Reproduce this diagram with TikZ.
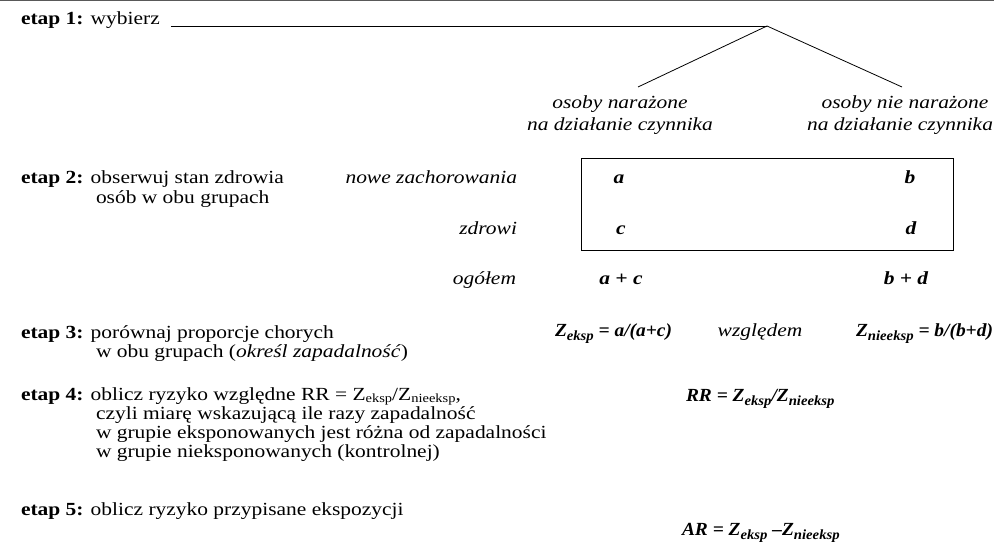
\documentclass[tikz,border=0pt]{standalone}
\usepackage{fontspec}
\setmainfont{Liberation Serif}[FakeStretch=1.16]
\newfontfamily\formulafont{Liberation Serif}[FakeStretch=1.05]
\usetikzlibrary{calc}

% body text size and lowered subscripts
\newcommand\bodyfs{\fontsize{18.5}{19}\selectfont}
\newcommand\lowsub[1]{\raisebox{-0.55ex}{\fontsize{14}{14}\selectfont #1}}
\newcommand\textsub[1]{\raisebox{-0.35ex}{\fontsize{12.5}{13}\selectfont #1}}

\tikzset{
  txt/.style={inner sep=0pt, outer sep=0pt, font=\bodyfs},
  lbl/.style={txt, font=\bodyfs\itshape},
  cell/.style={txt, font=\bodyfs\bfseries\itshape},
  formula/.style={txt, font=\formulafont\bodyfs\bfseries\itshape},
  rule/.style={line width=0.8pt, black},
  table/.style={draw, line width=0.8pt, minimum width=372pt, minimum height=92pt, inner sep=0pt}
}

\begin{document}
\begin{tikzpicture}[x=1pt, y=-1pt]
\useasboundingbox (0,0) rectangle (994,543);

% top rule of the page
\draw[line width=1.5pt, color=black!65] (0,0.75) -- (994,0.75);

% stage 1: choose the two groups
\node[txt, anchor=base west] (s1) at (21,25) {\textbf{etap 1:} wybierz};
\coordinate (apex) at (767,26);
\coordinate (expTop) at (638,87);
\coordinate (unexpTop) at (902,87);
\draw[rule] ($(s1.base east)+(11pt,-1pt)$) -- (apex);
\draw[rule] (apex) -- (expTop);
\draw[rule] (apex) -- (unexpTop);

\node[lbl, anchor=base] (exp1) at (620,108) {osoby narażone};
\node[lbl, anchor=base] (exp2) at (620,130) {na działanie czynnika};
\node[lbl, anchor=base] (unexp1) at (905,108) {osoby nie narażone};
\node[lbl, anchor=base east] (unexp2) at (993,130) {na działanie czynnika};

% stage 2: the 2x2 table
\node[txt, anchor=base west] (s2) at (21,183) {\textbf{etap 2:} obserwuj stan zdrowia};
\node[txt, anchor=base west] (s2b) at (96,203) {osób w obu grupach};

\node[table] (tab) at (767,204) {};

\node[lbl, anchor=base east] (sick) at (517,183) {nowe zachorowania};
\node[lbl, anchor=base east] (healthy) at (517,234) {zdrowi};
\node[lbl, anchor=base east] (total) at (516,284) {ogółem};
\draw[rule] ($(sick.base east)+(5pt,4.5pt)$) -- ($(sick.base east)+(5pt,4.5pt)$ -| tab.west);
\draw[rule] ($(healthy.base east)+(5pt,4.5pt)$) -- ($(healthy.base east)+(5pt,4.5pt)$ -| tab.west);

\node[cell, anchor=base] (a) at (619,183) {a};
\node[cell, anchor=base] (b) at (910,183) {b};
\node[cell, anchor=base] (c) at (621,234) {c};
\node[cell, anchor=base] (d) at (911,234) {d};
\node[cell, anchor=base] (ac) at (621,284) {a + c};
\node[cell, anchor=base] (bd) at (906,284) {b + d};

% stage 3: incidence in both groups
\node[txt, anchor=base west] (s3) at (21,338) {\textbf{etap 3:} porównaj proporcje chorych};
\node[txt, anchor=base west] (s3b) at (96,357) {w obu grupach (\textit{określ zapadalność})};
\node[formula, anchor=base west] (zexp) at (555,336) {Z\lowsub{eksp} = a/(a+c)};
\node[lbl, anchor=base] (vs) at (760,336) {względem};
\node[formula, anchor=base east] (zunexp) at (993,336) {Z\lowsub{nieeksp} = b/(b+d)};

% stage 4: relative risk
\node[txt, anchor=base west] (s4) at (21,400) {\textbf{etap 4:} oblicz ryzyko względne RR = Z\textsub{eksp}/Z\textsub{nieeksp},};
\node[txt, anchor=base west] (s4b) at (96,419) {czyli miarę wskazującą ile razy zapadalność};
\node[txt, anchor=base west] (s4c) at (96,438) {w grupie eksponowanych jest różna od zapadalności};
\node[txt, anchor=base west] (s4d) at (96,457) {w grupie nieksponowanych (kontrolnej)};
\node[formula, anchor=base west] (rr) at (686,401) {RR = Z\lowsub{eksp}/Z\lowsub{nieeksp}};

% stage 5: attributable risk
\node[txt, anchor=base west] (s5) at (21,515) {\textbf{etap 5:} oblicz ryzyko przypisane ekspozycji};
\node[formula, anchor=base west] (ar) at (682,535) {AR = Z\lowsub{eksp} –Z\lowsub{nieeksp}};
\end{tikzpicture}
\end{document}
